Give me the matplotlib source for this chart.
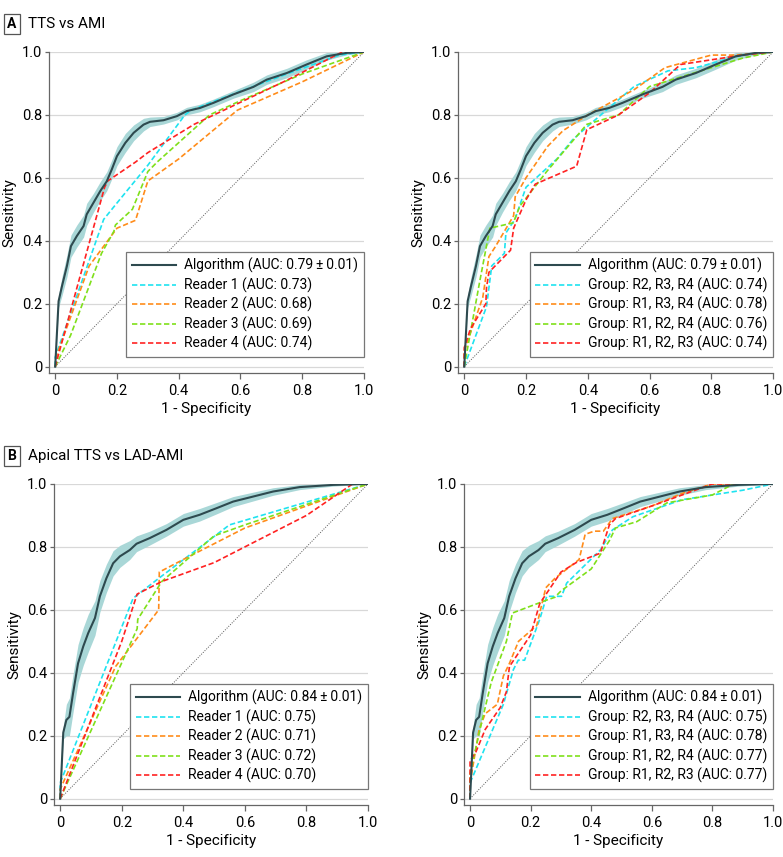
import numpy as np
import matplotlib
matplotlib.use("Agg")
import matplotlib.pyplot as plt

plt.rcParams['font.family'] = ['Roboto', 'DejaVu Sans']
plt.rcParams['font.size'] = 9.5

# ---------------- data ----------------
# Panel A: TTS vs AMI
algA_x = [0, 0.011, 0.022, 0.038, 0.051, 0.07, 0.092, 0.102, 0.124, 0.146, 0.167, 0.183, 0.2,
          0.227, 0.254, 0.286, 0.307, 0.351, 0.394, 0.426, 0.469, 0.512, 0.577, 0.642, 0.685,
          0.75, 0.814, 0.879, 0.944, 1.0]
algA_y = [0, 0.208, 0.256, 0.32, 0.383, 0.415, 0.447, 0.484, 0.521, 0.558, 0.589, 0.626, 0.669,
          0.711, 0.743, 0.769, 0.778, 0.783, 0.796, 0.812, 0.822, 0.838, 0.865, 0.889, 0.912,
          0.933, 0.96, 0.986, 0.997, 1.0]
algA_ci = [0, 0.02, 0.03, 0.035, 0.035, 0.035, 0.035, 0.035, 0.03, 0.03, 0.03, 0.03, 0.03,
           0.03, 0.025, 0.02, 0.015, 0.012, 0.012, 0.012, 0.012, 0.012, 0.012, 0.015, 0.015,
           0.015, 0.015, 0.012, 0.006, 0]

A_readers = {
    "Reader 1 (AUC: 0.73)": ([0, 0, 0.157, 0.2, 0.3, 0.42, 0.44, 0.6, 0.75, 0.92, 1.0],
                             [0, 0.03, 0.468, 0.52, 0.64, 0.80, 0.815, 0.875, 0.93, 0.99, 1.0]),
    "Reader 2 (AUC: 0.68)": ([0, 0.01, 0.11, 0.2, 0.26, 0.3, 0.4, 0.59, 0.8, 1.0],
                             [0, 0.05, 0.32, 0.44, 0.465, 0.59, 0.66, 0.815, 0.905, 1.0]),
    "Reader 3 (AUC: 0.69)": ([0, 0.05, 0.15, 0.19, 0.195, 0.25, 0.3, 0.33, 0.5, 0.6, 0.8, 1.0],
                             [0, 0.1, 0.36, 0.43, 0.45, 0.5, 0.62, 0.65, 0.8, 0.845, 0.93, 1.0]),
    "Reader 4 (AUC: 0.74)": ([0, 0.16, 0.17, 0.26, 0.3, 0.45, 0.6, 0.75, 0.93, 1.0],
                             [0, 0.57, 0.59, 0.65, 0.68, 0.77, 0.84, 0.91, 1.0, 1.0]),
}

A_groups = {
    "Group: R2, R3, R4 (AUC: 0.74)": ([0, 0.072, 0.089, 0.13, 0.135, 0.164, 0.2, 0.3, 0.35, 0.4, 0.49,
                                       0.55, 0.66, 0.75, 0.9, 1.0],
                                      [0, 0.19, 0.32, 0.36, 0.425, 0.468, 0.57, 0.66, 0.72, 0.764, 0.84,
                                       0.89, 0.94, 0.95, 0.99, 1.0]),
    "Group: R1, R3, R4 (AUC: 0.78)": ([0, 0, 0.06, 0.08, 0.1, 0.16, 0.165, 0.2, 0.27, 0.32, 0.4, 0.55,
                                       0.65, 0.8, 0.88, 1.0],
                                      [0, 0.05, 0.22, 0.35, 0.38, 0.48, 0.54, 0.6, 0.7, 0.75, 0.8, 0.88,
                                       0.95, 0.99, 0.99, 1.0]),
    "Group: R1, R2, R4 (AUC: 0.76)": ([0, 0.05, 0.083, 0.159, 0.18, 0.267, 0.397, 0.5, 0.6, 0.9, 1.0],
                                      [0, 0.27, 0.44, 0.457, 0.51, 0.62, 0.77, 0.8, 0.89, 0.98, 1.0]),
    "Group: R1, R2, R3 (AUC: 0.74)": ([0, 0, 0.02, 0.07, 0.072, 0.08, 0.12, 0.15, 0.16, 0.2, 0.23, 0.364,
                                       0.397, 0.5, 0.6, 0.7, 0.9, 1.0],
                                      [0, 0.06, 0.12, 0.2, 0.25, 0.3, 0.34, 0.37, 0.44, 0.53, 0.58, 0.637,
                                       0.753, 0.8, 0.87, 0.96, 0.99, 1.0]),
}

# Panel B: apical TTS vs LAD-AMI
algB_x = [0, 0.01, 0.02, 0.03, 0.042, 0.058, 0.075, 0.091, 0.113, 0.129, 0.15, 0.172, 0.194,
          0.226, 0.248, 0.291, 0.345, 0.4, 0.453, 0.508, 0.562, 0.627, 0.692, 0.778, 0.886, 1.0]
algB_y = [0, 0.21, 0.25, 0.26, 0.336, 0.43, 0.484, 0.526, 0.574, 0.643, 0.70, 0.748, 0.77,
          0.79, 0.81, 0.828, 0.854, 0.886, 0.902, 0.923, 0.944, 0.96, 0.976, 0.99, 0.997, 1.0]
algB_ci = [0, 0.02, 0.05, 0.06, 0.06, 0.06, 0.06, 0.06, 0.055, 0.05, 0.045, 0.04, 0.035,
           0.03, 0.025, 0.022, 0.02, 0.02, 0.02, 0.018, 0.016, 0.014, 0.012, 0.008, 0.004, 0]

B_readers = {
    "Reader 1 (AUC: 0.75)": ([0, 0, 0.237, 0.32, 0.55, 1.0],
                             [0, 0.05, 0.637, 0.70, 0.87, 1.0]),
    "Reader 2 (AUC: 0.71)": ([0, 0, 0.18, 0.32, 0.322, 0.4, 0.6, 1.0],
                             [0, 0.03, 0.42, 0.6, 0.72, 0.76, 0.86, 1.0]),
    "Reader 3 (AUC: 0.72)": ([0, 0.25, 0.252, 0.33, 0.5, 0.6, 1.0],
                             [0, 0.54, 0.57, 0.69, 0.835, 0.87, 1.0]),
    "Reader 4 (AUC: 0.70)": ([0, 0.2, 0.25, 0.33, 0.5, 0.8, 0.95, 1.0],
                             [0, 0.5, 0.65, 0.69, 0.75, 0.9, 1.0, 1.0]),
}

B_groups = {
    "Group: R2, R3, R4 (AUC: 0.75)": ([0, 0, 0.11, 0.143, 0.159, 0.18, 0.23, 0.253, 0.302, 0.319, 0.43,
                                       0.47, 0.538, 0.7, 0.9, 1.0],
                                      [0, 0.05, 0.3, 0.41, 0.44, 0.44, 0.57, 0.643, 0.643, 0.685, 0.79,
                                       0.854, 0.896, 0.95, 0.98, 1.0]),
    "Group: R1, R3, R4 (AUC: 0.78)": ([0, 0, 0.03, 0.05, 0.09, 0.11, 0.13, 0.16, 0.22, 0.25, 0.28, 0.32,
                                       0.36, 0.38, 0.41, 0.44, 0.47, 0.6, 0.7, 0.8, 1.0],
                                      [0, 0.05, 0.22, 0.27, 0.3, 0.39, 0.43, 0.5, 0.55, 0.67, 0.7, 0.73,
                                       0.76, 0.84, 0.85, 0.85, 0.89, 0.93, 0.97, 1.0, 1.0]),
    "Group: R1, R2, R4 (AUC: 0.77)": ([0, 0, 0.04, 0.07, 0.12, 0.14, 0.25, 0.28, 0.3, 0.4, 0.46, 0.48,
                                       0.55, 0.65, 0.8, 0.87, 1.0],
                                      [0, 0.08, 0.25, 0.37, 0.5, 0.59, 0.63, 0.64, 0.66, 0.73, 0.82, 0.86,
                                       0.88, 0.94, 0.965, 1.0, 1.0]),
    "Group: R1, R2, R3 (AUC: 0.77)": ([0, 0, 0.02, 0.05, 0.1, 0.12, 0.13, 0.2, 0.23, 0.3, 0.35, 0.43,
                                       0.46, 0.48, 0.6, 0.8, 1.0],
                                      [0, 0.12, 0.15, 0.22, 0.29, 0.34, 0.42, 0.52, 0.62, 0.72, 0.75, 0.78,
                                       0.87, 0.89, 0.93, 1.0, 1.0]),
}

colors = ["#1fe3f0", "#ff8c1a", "#7fe01a", "#ff2222"]
alg_color = "#2e4a4f"
band_color = "#a9d7d7"
tick_vals = [0, 0.2, 0.4, 0.6, 0.8, 1.0]
tick_labels = ["0", "0.2", "0.4", "0.6", "0.8", "1.0"]


def draw_panel(ax, ax_x, ax_y, ax_ci, auc_text, series):
    ax.plot([0, 1], [0, 1], linestyle=(0, (1, 1.5)), color="#555555", lw=0.7, zorder=1)
    lo = np.array(ax_y) - np.array(ax_ci)
    hi = np.minimum(np.array(ax_y) + np.array(ax_ci), 1.0)
    ax.fill_between(ax_x, lo, hi, color=band_color, lw=0, zorder=2)
    ax.plot(ax_x, ax_y, color=alg_color, lw=1.5, label="Algorithm (AUC: %s)" % auc_text, zorder=6)
    i = 0
    for name, (xs, ys) in series.items():
        ax.plot(xs, ys, color=colors[i], lw=1.2, dashes=(3.2, 1.6), label=name, zorder=3 + i * 0.1)
        i = i + 1

    ax.set_xlim(-0.02, 1.0)
    ax.set_ylim(-0.02, 1.0)
    ax.set_xticks(tick_vals)
    ax.set_xticklabels(tick_labels)
    ax.set_yticks(tick_vals)
    ax.set_yticklabels(tick_labels)
    ax.yaxis.grid(True, color="#d8d8d8", lw=0.9)
    ax.set_axisbelow(True)
    for s in ["top", "right"]:
        ax.spines[s].set_visible(False)
    for s in ["left", "bottom"]:
        ax.spines[s].set_color("#666666")
        ax.spines[s].set_linewidth(0.9)
    ax.tick_params(axis="both", colors="#666666", labelcolor="black", labelsize=10.5, width=0.9)
    ax.tick_params(axis="x", length=4, pad=4)
    ax.tick_params(axis="y", length=3, pad=2)
    ax.set_xlabel("1 - Specificity", fontsize=11, labelpad=3)
    ax.set_ylabel("Sensitivity", fontsize=11, labelpad=4)
    leg = ax.legend(loc="lower right", bbox_to_anchor=(1.0, 0.05), borderaxespad=0,
                    fancybox=False, edgecolor="#777777", framealpha=1, fontsize=10,
                    handlelength=3.2, handletextpad=0.6, labelspacing=0.3, borderpad=0.4)
    leg.get_frame().set_linewidth(0.9)


fig = plt.figure(figsize=(7.83, 8.57), dpi=100)

ax1 = fig.add_axes([0.0626, 0.5648, 0.4023, 0.3746])
ax2 = fig.add_axes([0.585, 0.5648, 0.4023, 0.3746])
ax3 = fig.add_axes([0.069, 0.0607, 0.401, 0.3746])
ax4 = fig.add_axes([0.5926, 0.0607, 0.3946, 0.3746])

draw_panel(ax1, algA_x, algA_y, algA_ci, "0.79\u2009\u00b1\u20090.01", A_readers)
draw_panel(ax2, algA_x, algA_y, algA_ci, "0.79\u2009\u00b1\u20090.01", A_groups)
draw_panel(ax3, algB_x, algB_y, algB_ci, "0.84\u2009\u00b1\u20090.01", B_readers)
draw_panel(ax4, algB_x, algB_y, algB_ci, "0.84\u2009\u00b1\u20090.01", B_groups)

# panel letters and titles
box = dict(boxstyle="square,pad=0.25", facecolor="white", edgecolor="#555555", lw=0.9)
fig.text(12 / 783, 1 - 24 / 857, "A", fontsize=10, fontweight="bold", ha="center", va="center", bbox=box)
fig.text(28 / 783, 1 - 24 / 857, "TTS vs AMI", fontsize=11, ha="left", va="center")
fig.text(12 / 783, 1 - 456 / 857, "B", fontsize=10, fontweight="bold", ha="center", va="center", bbox=box)
fig.text(28 / 783, 1 - 456 / 857, "Apical TTS vs LAD-AMI", fontsize=11, ha="left", va="center")

fig.savefig("out.png", dpi=100)
